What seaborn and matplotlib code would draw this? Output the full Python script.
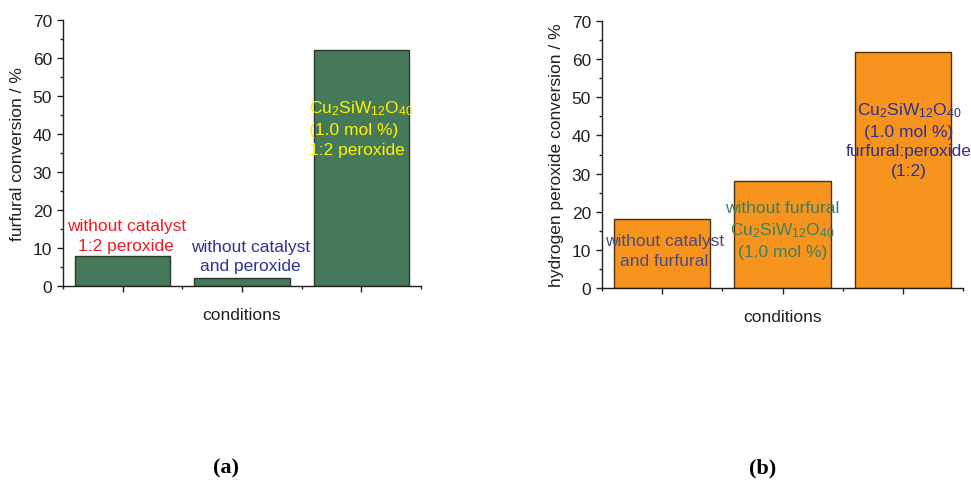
import matplotlib
matplotlib.use("Agg")
import matplotlib.pyplot as plt
import seaborn as sns
import pandas as pd
from matplotlib.ticker import MultipleLocator, FixedLocator

# ---- data ----
conditions_a = ["no catalyst 1:2", "no catalyst no peroxide", "Cu2SiW12O40 1:2"]
furfural_conv = [8, 2, 62]
labels_a = ["without catalyst\n1:2 peroxide",
            "without catalyst\nand peroxide",
            "Cu$_2$SiW$_{12}$O$_{40}$\n(1.0 mol %)\n1:2 peroxide"]
label_colors_a = ["#ed1c24", "#2e3192", "#fff200"]
label_pos_a = [(0.03, 13.3), (1.07, 7.9), (2.0, 41.6)]

conditions_b = ["no catalyst no furfural", "no furfural Cu2SiW12O40", "Cu2SiW12O40 1:2"]
peroxide_conv = [18, 28, 62]
labels_b = ["without catalyst\nand furfural",
            "without furfural\nCu$_2$SiW$_{12}$O$_{40}$\n(1.0 mol %)",
            "Cu$_2$SiW$_{12}$O$_{40}$\n(1.0 mol %)\nfurfural:peroxide\n(1:2)"]
label_colors_b = ["#4a4a8c", "#3f7f5e", "#2e3192"]
label_pos_b = [(0.02, 9.8), (1.0, 15.3), (2.05, 39.0)]

sns.set_style("ticks")
plt.rcParams["font.family"] = ["Liberation Sans", "DejaVu Sans"]
plt.rcParams["mathtext.default"] = "regular"

fig = plt.figure(figsize=(9.71, 4.85), dpi=100)
ax1 = fig.add_axes([63/971, 1-287/485, (421-63)/971, (287-21)/485])
ax2 = fig.add_axes([602/971, 1-289/485, (963-602)/971, (289-22)/485])

df_a = pd.DataFrame({"cond": conditions_a, "val": furfural_conv})
df_b = pd.DataFrame({"cond": conditions_b, "val": peroxide_conv})

sns.barplot(data=df_a, x="cond", y="val", ax=ax1, color="#46785a",
            saturation=1, width=0.8, edgecolor="#2b3a30", linewidth=1)
sns.barplot(data=df_b, x="cond", y="val", ax=ax2, color="#f7941d",
            saturation=1, width=0.8, edgecolor="#4a3010", linewidth=1)

txtc = "#231f20"
for ax, ylabel, labels, cols, pos, multi in [
        (ax1, "furfural conversion / %", labels_a, label_colors_a, label_pos_a, ["center", "center", "left"]),
        (ax2, "hydrogen peroxide conversion / %", labels_b, label_colors_b, label_pos_b, ["center", "center", "center"])]:
    ax.set_xlim(-0.5, 2.5)
    ax.set_ylim(0, 70)
    ax.yaxis.set_major_locator(MultipleLocator(10))
    ax.yaxis.set_minor_locator(MultipleLocator(5))
    ax.xaxis.set_major_locator(FixedLocator([0, 1, 2]))
    ax.xaxis.set_minor_locator(FixedLocator([-0.5, 0.5, 1.5, 2.5]))
    ax.set_xticklabels([])
    ax.tick_params(axis="both", which="major", direction="out", length=4.5,
                   width=1, colors=txtc, labelsize=12.5, labelcolor=txtc)
    ax.tick_params(axis="both", which="minor", direction="out", length=2.5,
                   width=1, colors=txtc)
    for s in ["left", "bottom"]:
        ax.spines[s].set_color(txtc)
        ax.spines[s].set_linewidth(1)
    sns.despine(ax=ax)
    ax.set_ylabel(ylabel, fontsize=12.5, color=txtc)
    ax.set_xlabel("conditions", fontsize=12.5, color=txtc)
    ax.yaxis.set_label_coords(-0.105, 0.5)
    ax.xaxis.set_label_coords(0.5, -0.08)
    for lab, c, (x, y), ma in zip(labels, cols, pos, multi):
        ax.text(x, y, lab, color=c, fontsize=12.5, ha="center", va="center",
                multialignment=ma, linespacing=1.4, clip_on=False)

fig.text(226/971, 1-468/485, "(a)", fontsize=16, fontweight="bold",
         family="Liberation Serif", ha="center", va="center", color="black")
fig.text(763/971, 1-468/485, "(b)", fontsize=16, fontweight="bold",
         family="Liberation Serif", ha="center", va="center", color="black")

fig.savefig("out.png", dpi=100)
